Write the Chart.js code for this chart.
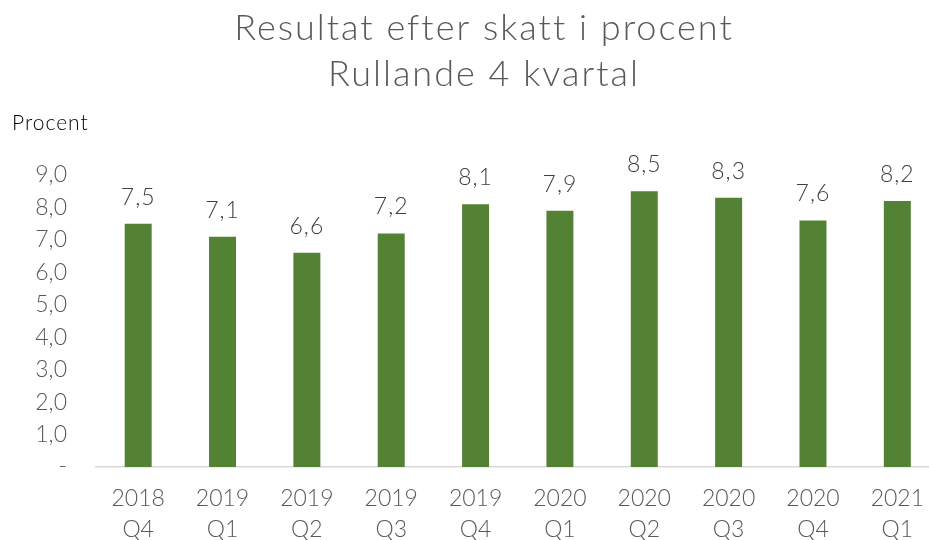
<!DOCTYPE html>
<html>
<head>
<meta charset="utf-8">
<script src="https://cdn.jsdelivr.net/npm/chart.js@4/dist/chart.umd.min.js"></script>
<style>
html,body{margin:0;padding:0;background:#fff;overflow:hidden;}
#wrap{width:940px;height:540px;}
</style>
</head>
<body>
<div id="wrap"><canvas id="c" width="940" height="540"></canvas></div>
<script>
const categories = [['2018','Q4'],['2019','Q1'],['2019','Q2'],['2019','Q3'],['2019','Q4'],['2020','Q1'],['2020','Q2'],['2020','Q3'],['2020','Q4'],['2021','Q1']];
const values = [7.5, 7.1, 6.6, 7.2, 8.1, 7.9, 8.5, 8.3, 7.6, 8.2];
const titleLines = ['Resultat efter skatt i procent', 'Rullande 4 kvartal'];
const yAxisTitle = 'Procent';

const FONT = 'Lato, "Open Sans", sans-serif';

const fmt = v => v.toFixed(1).replace('.', ',');

const overlay = {
  id: 'overlay',
  afterDatasetsDraw(chart) {
    const ctx = chart.ctx;
    ctx.save();
    // data labels
    const meta = chart.getDatasetMeta(0);
    ctx.fillStyle = '#404040';
    ctx.font = '300 23px ' + FONT;
    ctx.letterSpacing = '1px';
    ctx.textAlign = 'center';
    ctx.textBaseline = 'alphabetic';
    meta.data.forEach((bar, i) => {
      ctx.fillText(fmt(values[i]), bar.x, bar.y - 19);
    });
    // title
    ctx.fillStyle = '#595959';
    ctx.font = '300 36px ' + FONT;
    ctx.letterSpacing = '2px';
    ctx.textBaseline = 'middle';
    ctx.fillText(titleLines[0], 484, 28);
    ctx.fillText(titleLines[1], 484, 74);
    // y axis title
    ctx.fillStyle = '#000000';
    ctx.font = '300 21px ' + FONT;
    ctx.letterSpacing = '1px';
    ctx.textAlign = 'left';
    ctx.fillText(yAxisTitle, 12, 123);
    ctx.restore();
  }
};

new Chart(document.getElementById('c'), {
  type: 'bar',
  data: {
    labels: categories,
    datasets: [{
      data: values,
      backgroundColor: '#548235',
      borderWidth: 0,
      barPercentage: 1,
      categoryPercentage: 0.32
    }]
  },
  options: {
    responsive: false,
    animation: false,
    devicePixelRatio: 1,
    layout: { padding: { top: 175, left: 0, right: 0, bottom: 0 } },
    plugins: { legend: { display: false }, title: { display: false }, tooltip: { enabled: false } },
    scales: {
      x: {
        grid: { display: false, drawTicks: false },
        border: { display: true, color: '#d9d9d9', width: 1.5 },
        ticks: { color: '#595959', font: { family: FONT, size: 23, weight: '300', lineHeight: 1.35 }, padding: 16, maxRotation: 0, autoSkip: false },
        afterFit(s) { s.height = 73; }
      },
      y: {
        min: 0, max: 9,
        grid: { display: false, drawTicks: false },
        border: { display: false },
        ticks: {
          stepSize: 1,
          color: '#595959',
          font: { family: FONT, size: 23, weight: '300' },
          padding: 29,
          callback: v => v === 0 ? '-' : fmt(v)
        },
        afterFit(s) { s.width = 96; }
      }
    }
  },
  plugins: [overlay]
});
</script>
</body>
</html>
